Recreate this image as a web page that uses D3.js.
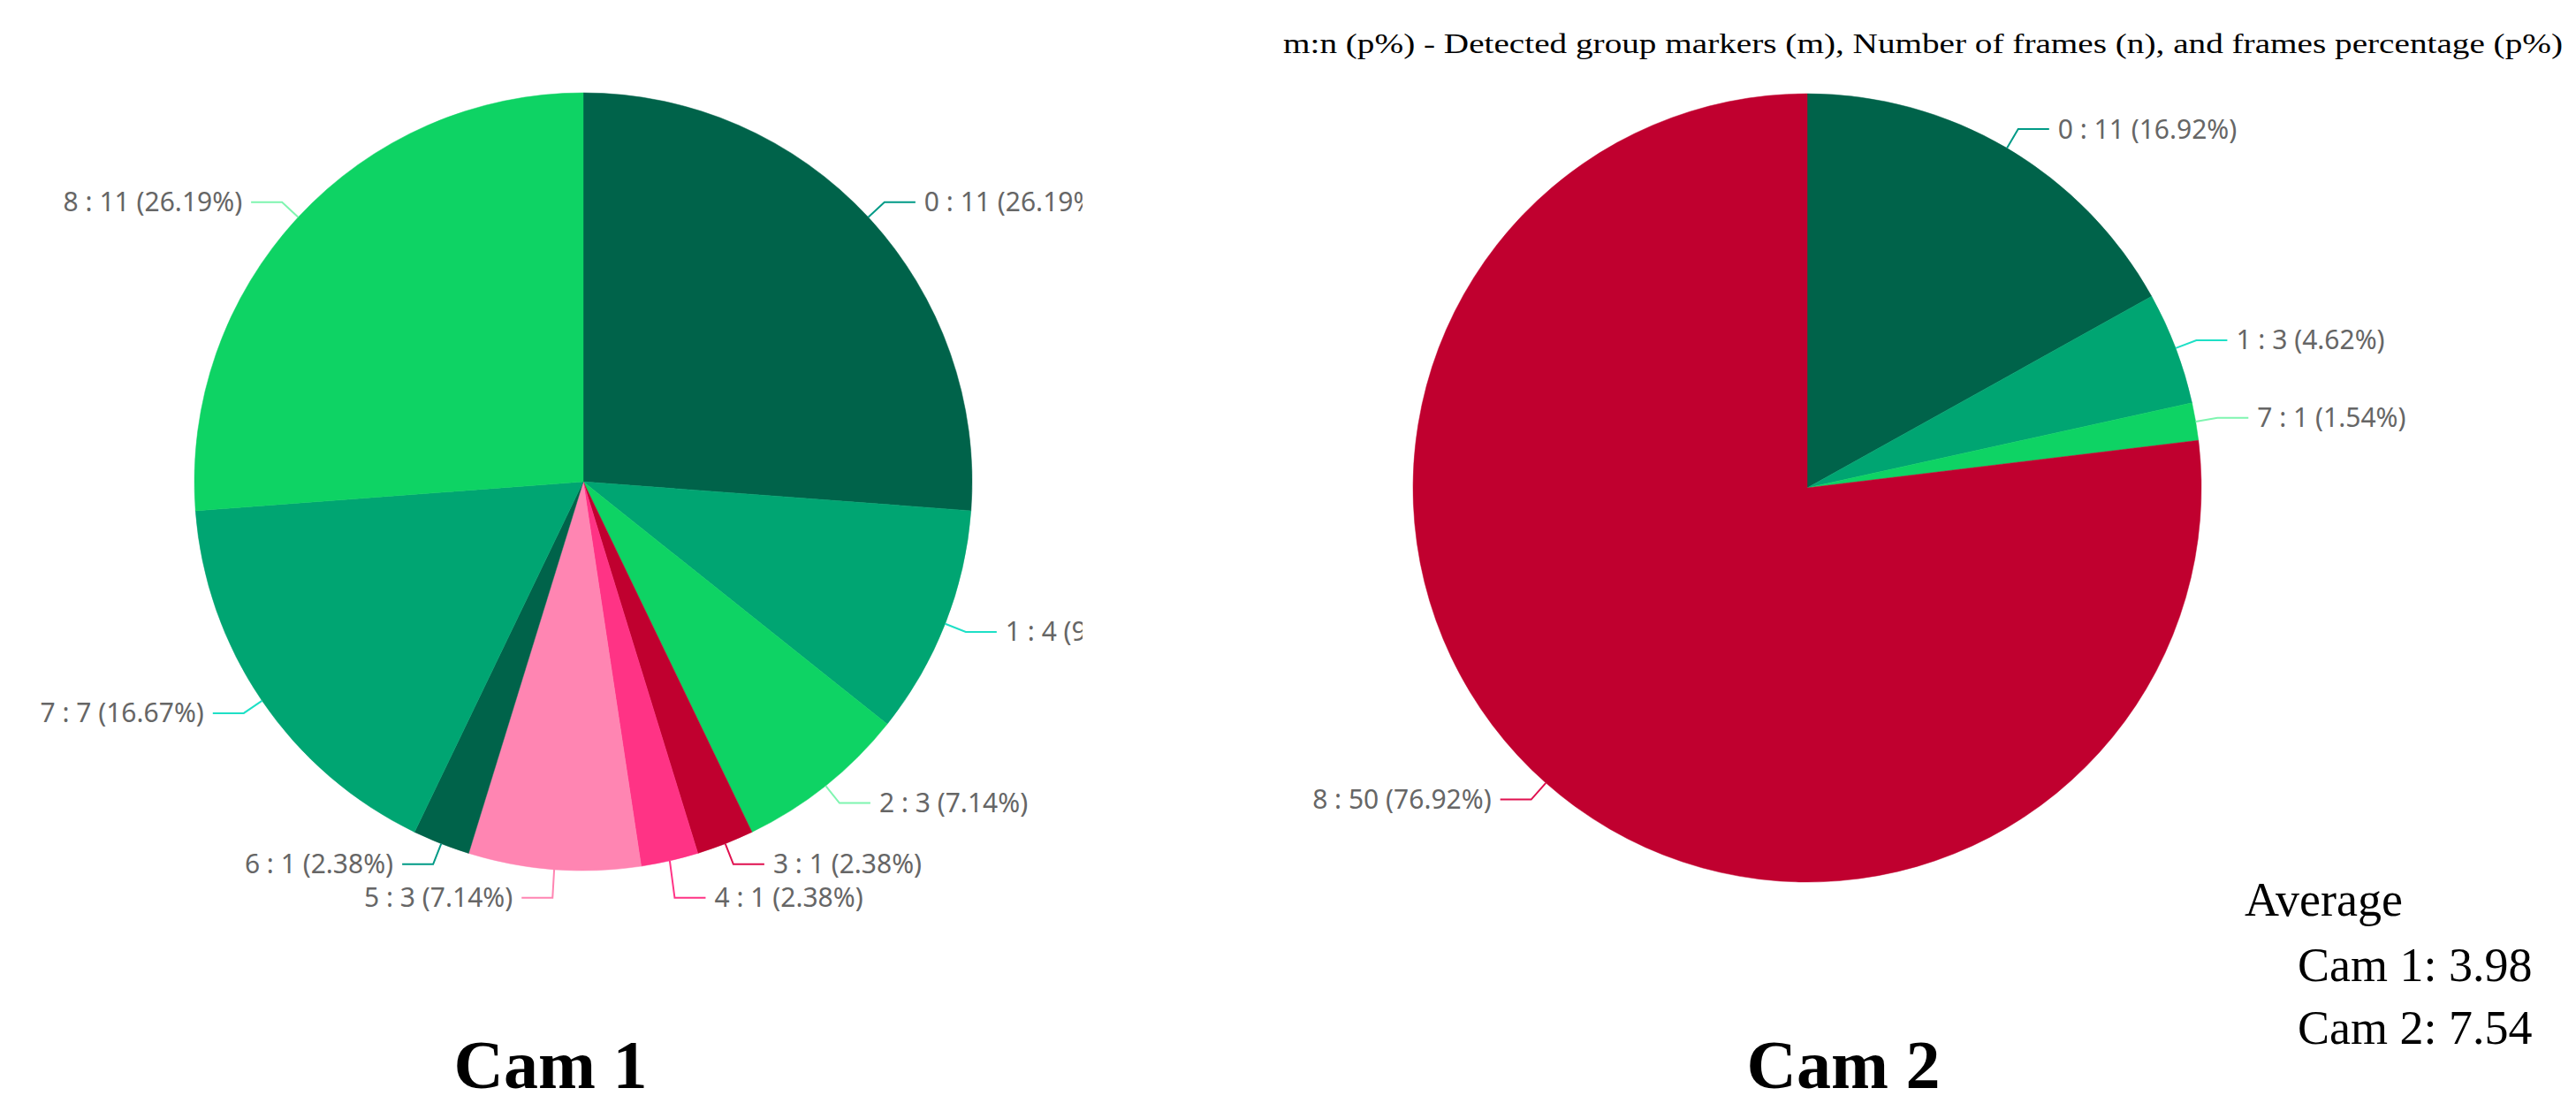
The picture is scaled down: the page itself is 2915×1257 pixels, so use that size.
<!DOCTYPE html>
<html>
<head>
<meta charset="utf-8">
<script src="https://cdn.jsdelivr.net/npm/d3@7"></script>
<style>
  body { margin: 0; background: #fff; }
  svg { display: block; }
</style>
</head>
<body>
<svg id="chart" width="2915" height="1257"></svg>
<script>
// Detected group markers (m) and number of frames (n)
const cam1Markers = ['0', '1', '2', '3', '4', '5', '6', '7', '8'];
const cam1Frames = [11, 4, 3, 1, 1, 3, 1, 7, 11];
const cam2Markers = ['0', '1', '7', '8'];
const cam2Frames = [11, 3, 1, 50];
const averageLabels = ['Cam 1: 3.98', 'Cam 2: 7.54'];

const fills = ['#00634a', '#00a572', '#0ed364', '#c0002f', '#ff3385', '#ff85b2'];
const leaders = ['#009a86', '#1ee0c6', '#7ff5b0', '#e0104f', '#ff3385', '#ff85b2'];
const cam2FillIdx = [0, 1, 2, 3];

const svg = d3.select('#chart');

svg.append('defs').append('clipPath').attr('id', 'clip1')
  .append('rect').attr('x', 0).attr('y', 0).attr('width', 1225).attr('height', 1257);

function drawPie(g, markers, frames, colorIdx, cx, cy, r) {
  const total = d3.sum(frames);
  const data = markers.map((m, i) => ({ m, n: frames[i], c: colorIdx[i] }));
  const arcs = d3.pie().sort(null).value(d => d.n)(data);
  const arc = d3.arc().innerRadius(0).outerRadius(r);

  const pg = g.append('g').attr('transform', `translate(${cx},${cy})`);
  pg.selectAll('path').data(arcs).enter().append('path')
    .attr('d', arc)
    .attr('fill', d => fills[d.data.c % fills.length])
    .attr('stroke', d => fills[d.data.c % fills.length])
    .attr('stroke-width', 0.5);

  // leader points
  const labels = arcs.map(a => {
    const ang = (a.startAngle + a.endAngle) / 2;
    const s = Math.sin(ang), c = -Math.cos(a.startAngle / 2 + a.endAngle / 2);
    return {
      a, right: s >= 0,
      ex: s * r, ey: c * r,
      lx: s * (r + 25), ly: c * (r + 25)
    };
  });
  // simple overlap relaxation per side
  [true, false].forEach(side => {
    const ls = labels.filter(l => l.right === side).sort((p, q) => p.ly - q.ly);
    for (let k = 1; k < ls.length; k++) {
      if (ls[k].ly - ls[k - 1].ly < 38) {
        if (ls[k].ly > 0) ls[k].ly = ls[k - 1].ly + 38;
        else ls[k - 1].ly = ls[k].ly - 38;
      }
    }
  });

  labels.forEach(l => {
    const dir = l.right ? 1 : -1;
    const col = leaders[l.a.data.c % leaders.length];
    pg.append('polyline')
      .attr('points', [[l.ex, l.ey], [l.lx, l.ly], [l.lx + dir * 35, l.ly]].map(p => p.join(',')).join(' '))
      .attr('fill', 'none')
      .attr('stroke', col)
      .attr('stroke-width', 2);
    pg.append('text')
      .attr('x', l.lx + dir * 45)
      .attr('y', l.ly)
      .attr('dy', '0.35em')
      .attr('text-anchor', l.right ? 'start' : 'end')
      .attr('font-family', 'Noto Sans, sans-serif')
      .attr('font-size', 30)
      .attr('fill', '#666')
      .text(`${l.a.data.m} : ${l.a.data.n} (${(l.a.data.n / total * 100).toFixed(2)}%)`);
  });
}

drawPie(svg.append('g').attr('clip-path', 'url(#clip1)'),
  cam1Markers, cam1Frames, cam1Markers.map((m, i) => i), 660, 545, 440);
drawPie(svg.append('g'), cam2Markers, cam2Frames, cam2FillIdx, 2045, 552, 446);

svg.append('text')
  .attr('x', 1452).attr('y', 60)
  .attr('textLength', 1448).attr('lengthAdjust', 'spacingAndGlyphs')
  .attr('font-family', 'Liberation Serif, Times New Roman, serif')
  .attr('font-size', 32)
  .text('m:n (p%) - Detected group markers (m), Number of frames (n), and frames percentage (p%)');

[['Cam 1', 623], ['Cam 2', 2086]].forEach(([t, x]) => {
  svg.append('text')
    .attr('x', x).attr('y', 1231)
    .attr('text-anchor', 'middle')
    .attr('font-family', 'Liberation Serif, Times New Roman, serif')
    .attr('font-weight', 'bold')
    .attr('font-size', 78)
    .text(t);
});

svg.append('text')
  .attr('x', 2540).attr('y', 1036)
  .attr('font-family', 'Liberation Serif, Times New Roman, serif')
  .attr('font-size', 54)
  .text('Average');
averageLabels.forEach((t, i) => {
  svg.append('text')
    .attr('x', 2600).attr('y', 1110 + i * 71)
    .attr('font-family', 'Liberation Serif, Times New Roman, serif')
    .attr('font-size', 54)
    .text(t);
});
</script>
</body>
</html>
